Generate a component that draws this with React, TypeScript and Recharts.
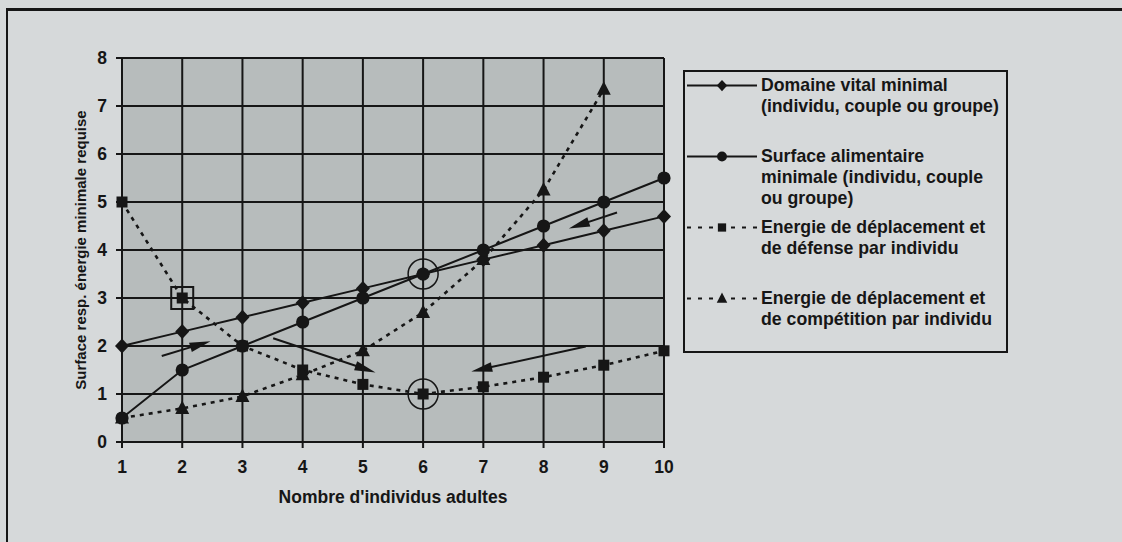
import React from "react";
import {
  CartesianGrid,
  Label,
  Legend,
  Line,
  LineChart,
  ReferenceDot,
  ReferenceLine,
  XAxis,
  YAxis,
} from "recharts";

const individus = [1, 2, 3, 4, 5, 6, 7, 8, 9, 10];
const domaineVital = [2.0, 2.3, 2.6, 2.9, 3.2, 3.5, 3.8, 4.1, 4.4, 4.7];
const surfaceAlimentaire = [0.5, 1.5, 2.0, 2.5, 3.0, 3.5, 4.0, 4.5, 5.0, 5.5];
const energieDefense = [5.0, 3.0, 2.0, 1.5, 1.2, 1.0, 1.15, 1.35, 1.6, 1.9];
const energieCompetition = [0.5, 0.7, 0.95, 1.4, 1.9, 2.7, 3.8, 5.25, 7.35, null];
const yTicks = [0, 1, 2, 3, 4, 5, 6, 7, 8];

// points marked by hand on the original figure
const circledPoints = [
  { x: 6, y: 3.5 },
  { x: 6, y: 1.0 },
];
const boxedPoints = [{ x: 2, y: 3 }];
const arrows = [
  { x1: 1.66, y1: 1.79, x2: 2.47, y2: 2.1 },
  { x1: 3.51, y1: 2.16, x2: 5.21, y2: 1.45 },
  { x1: 8.7, y1: 1.99, x2: 6.8, y2: 1.47 },
  { x1: 9.22, y1: 4.78, x2: 8.42, y2: 4.45 },
];

const legendItems = [
  { key: "diamond", dashed: false, lines: ["Domaine vital minimal", "(individu, couple ou groupe)"] },
  { key: "circle", dashed: false, lines: ["Surface alimentaire", "minimale (individu, couple", "ou groupe)"] },
  { key: "square", dashed: true, lines: ["Energie de déplacement et", "de défense par individu"] },
  { key: "triangle", dashed: true, lines: ["Energie de déplacement et", "de compétition par individu"] },
];

const data = individus.map((n, i) => ({
  n,
  domaine: domaineVital[i],
  surface: surfaceAlimentaire[i],
  defense: energieDefense[i],
  competition: energieCompetition[i],
}));

const INK = "#161616";
const PAGE = "#d6d9da";
const FONT = "'Liberation Sans', Arial, sans-serif";

const marker = (kind: string, cx: number, cy: number, s = 1, key?: string) => {
  if (kind === "diamond")
    return (
      <polygon key={key} points={`${cx},${cy - 7.5 * s} ${cx + 7 * s},${cy} ${cx},${cy + 7.5 * s} ${cx - 7 * s},${cy}`} fill={INK} />
    );
  if (kind === "circle") return <circle key={key} cx={cx} cy={cy} r={6.6 * s} fill={INK} />;
  if (kind === "square")
    return <rect key={key} x={cx - 5.5 * s} y={cy - 5.5 * s} width={11 * s} height={11 * s} fill={INK} />;
  return (
    <polygon key={key} points={`${cx},${cy - 8 * s} ${cx + 7 * s},${cy + 5.5 * s} ${cx - 7 * s},${cy + 5.5 * s}`} fill={INK} />
  );
};

const dotFor = (kind: string) => (props: any) => {
  const { cx, cy, index } = props;
  if (cx == null || cy == null || Number.isNaN(cy)) return <g key={`${kind}-${index}`} />;
  return marker(kind, cx, cy, 1, `${kind}-${index}`);
};

const Arrow = (props: any) => {
  const { x1, y1, x2, y2 } = props;
  const dx = x2 - x1;
  const dy = y2 - y1;
  const len = Math.hypot(dx, dy) || 1;
  const ux = dx / len;
  const uy = dy / len;
  const hl = 21;
  const hw = 4.8;
  const bx = x2 - ux * hl;
  const by = y2 - uy * hl;
  return (
    <g>
      <line x1={x1} y1={y1} x2={bx + ux * 4} y2={by + uy * 4} stroke={INK} strokeWidth={2} />
      <polygon
        points={`${x2},${y2} ${bx - uy * hw},${by + ux * hw} ${bx + uy * hw},${by - ux * hw}`}
        fill={INK}
      />
    </g>
  );
};

const renderLegend = () => (
  <div
    style={{
      position: "relative",
      width: 325,
      height: 283,
      boxSizing: "border-box",
      border: `2px solid ${INK}`,
      fontFamily: FONT,
      fontWeight: "bold",
      fontSize: 17.7,
      color: INK,
    }}
  >
    {legendItems.map((it, i) => (
      <div key={it.key} style={{ position: "absolute", left: 0, top: 2.5 + 71 * i, width: "100%" }}>
        <svg width={72} height={21} style={{ position: "absolute", left: 2, top: 0 }}>
          <line
            x1={0}
            y1={10.5}
            x2={70}
            y2={10.5}
            stroke={INK}
            strokeWidth={2}
            strokeDasharray={it.dashed ? "4 7" : undefined}
          />
          {it.dashed && <rect x={26} y={4} width={18} height={13} fill={PAGE} />}
          {marker(it.key, 35, 10.5, 0.75)}
        </svg>
        <div style={{ position: "absolute", left: 76, top: 0, lineHeight: "21px", whiteSpace: "nowrap" }}>
          {it.lines.map((l) => (
            <div key={l}>{l}</div>
          ))}
        </div>
      </div>
    ))}
  </div>
);

const tickStyle = { fill: INK, fontSize: 17.5, fontWeight: "bold", fontFamily: FONT };

export default function App() {
  return (
    <div
      style={{
        position: "absolute",
        left: 0,
        top: 0,
        width: 1122,
        height: 542,
        background: PAGE,
        overflow: "hidden",
      }}
    >
      <div
        style={{
          position: "absolute",
          left: 6,
          top: 8,
          width: 1130,
          height: 560,
          borderLeft: `2px solid ${INK}`,
          borderTop: `3px solid ${INK}`,
        }}
      />
      <LineChart
        width={1122}
        height={542}
        data={data}
        margin={{ top: 58, right: 458, bottom: 70, left: 72 }}
        style={{ fontFamily: FONT }}
      >
        <CartesianGrid stroke={INK} strokeWidth={2} fill="#b7bcbc" fillOpacity={1} />
        <XAxis
          type="number"
          dataKey="n"
          domain={[1, 10]}
          ticks={individus}
          height={30}
          tick={tickStyle}
          tickSize={6}
          tickMargin={13}
          axisLine={{ stroke: INK, strokeWidth: 2 }}
          tickLine={{ stroke: INK, strokeWidth: 2 }}
        >
          <Label
            content={(p: any) => {
              const vb = p.viewBox;
              return (
                <text
                  x={vb.x + vb.width / 2}
                  y={vb.y + 55}
                  textAnchor="middle"
                  dominantBaseline="central"
                  fill={INK}
                  fontSize={17.5}
                  fontWeight="bold"
                  fontFamily={FONT}
                >
                  Nombre d'individus adultes
                </text>
              );
            }}
          />
        </XAxis>
        <YAxis
          type="number"
          domain={[0, 8]}
          ticks={yTicks}
          width={50}
          tick={tickStyle}
          tickSize={6}
          tickMargin={9}
          axisLine={{ stroke: INK, strokeWidth: 2 }}
          tickLine={{ stroke: INK, strokeWidth: 2 }}
        >
          <Label
            content={(p: any) => {
              const vb = p.viewBox;
              const cx = vb.x + 8;
              const cy = vb.y + vb.height / 2;
              return (
                <text
                  x={cx}
                  y={cy}
                  transform={`rotate(-90 ${cx} ${cy})`}
                  textAnchor="middle"
                  dominantBaseline="central"
                  fill={INK}
                  fontSize={15}
                  fontWeight="bold"
                  fontFamily={FONT}
                >
                  Surface resp. énergie minimale requise
                </text>
              );
            }}
          />
        </YAxis>
        <Legend
          layout="vertical"
          align="center"
          verticalAlign="middle"
          content={renderLegend}
          wrapperStyle={{ left: 683, top: 70, width: 325, height: 283 }}
        />
        <Line
          dataKey="defense"
          stroke={INK}
          strokeWidth={2.6}
          strokeDasharray="4 5"
          dot={dotFor("square")}
          isAnimationActive={false}
        />
        <Line
          dataKey="competition"
          stroke={INK}
          strokeWidth={2.6}
          strokeDasharray="4 5"
          dot={dotFor("triangle")}
          isAnimationActive={false}
        />
        <Line dataKey="domaine" stroke={INK} strokeWidth={2} dot={dotFor("diamond")} isAnimationActive={false} />
        <Line dataKey="surface" stroke={INK} strokeWidth={2} dot={dotFor("circle")} isAnimationActive={false} />
        {circledPoints.map((p, i) => (
          <ReferenceDot key={`c${i}`} x={p.x} y={p.y} r={15} fill="none" stroke={INK} strokeWidth={1.5} />
        ))}
        {boxedPoints.map((p, i) => (
          <ReferenceDot
            key={`b${i}`}
            x={p.x}
            y={p.y}
            shape={(s: any) => (
              <rect x={s.cx - 11} y={s.cy - 11} width={22} height={22} fill="none" stroke={INK} strokeWidth={2} />
            )}
          />
        ))}
        {arrows.map((a, i) => (
          <ReferenceLine
            key={`a${i}`}
            segment={[
              { x: a.x1, y: a.y1 },
              { x: a.x2, y: a.y2 },
            ]}
            shape={Arrow}
          />
        ))}
      </LineChart>
    </div>
  );
}
